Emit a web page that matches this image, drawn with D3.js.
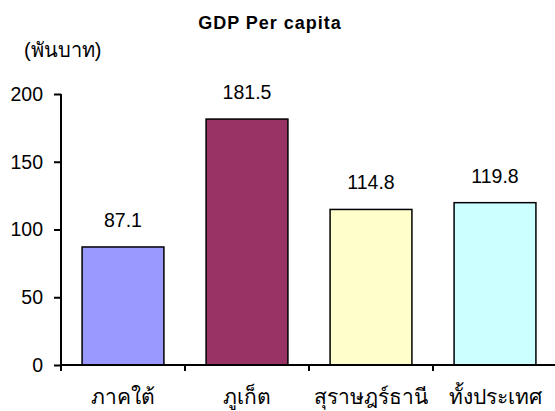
<!DOCTYPE html>
<html>
<head>
<meta charset="utf-8">
<script src="https://cdn.jsdelivr.net/npm/d3@7"></script>
<style>
  html, body { margin: 0; padding: 0; background: #fff; }
  svg { display: block; }
  text { font-family: Arial, "Liberation Sans", sans-serif; fill: #000; }
</style>
</head>
<body>
<svg id="chart" width="555" height="411"></svg>
<script>
const categories = ["ภาคใต้", "ภูเก็ต", "สุราษฎร์ธานี", "ทั้งประเทศ"];
const values = [87.1, 181.5, 114.8, 119.8];
const colors = ["#9999FF", "#993366", "#FFFFCC", "#CCFFFF"];
const yTicks = [0, 50, 100, 150, 200];
const title = "GDP Per capita";
const unitLabel = "(พันบาท)";

const svg = d3.select("#chart");
const plotLeft = 61, plotRight = 557, plotTop = 94, plotBottom = 365;
const fontSize = 19.5;

const x = d3.scaleBand().domain(categories).range([plotLeft, plotRight]).paddingInner(0.34).paddingOuter(0.17);
const y = d3.scaleLinear().domain([0, 200]).range([plotBottom, plotTop]);

// Title and unit
svg.append("text").attr("x", 270).attr("y", 29).attr("text-anchor", "middle")
  .attr("font-weight", "bold").attr("font-size", 18).attr("letter-spacing", 1).text(title);
svg.append("text").attr("x", 24).attr("y", 57).attr("font-size", 20).text(unitLabel);

// Bars
svg.selectAll("rect.bar").data(values).join("rect")
  .attr("class", "bar")
  .attr("x", (d, i) => x(categories[i]))
  .attr("width", x.bandwidth())
  .attr("y", d => y(d))
  .attr("height", d => y(0) - y(d))
  .attr("fill", (d, i) => colors[i])
  .attr("stroke", "#000").attr("stroke-width", 1.5);

// Value labels
svg.selectAll("text.val").data(values).join("text")
  .attr("class", "val")
  .attr("x", (d, i) => x(categories[i]) + x.bandwidth() / 2)
  .attr("y", d => y(d) - 20)
  .attr("text-anchor", "middle").attr("font-size", fontSize)
  .text(d => d.toFixed(1));

// Y axis
const yAxis = svg.append("g").attr("transform", `translate(${plotLeft},0)`)
  .call(d3.axisLeft(y).tickValues(yTicks).tickSize(7).tickPadding(11));
yAxis.selectAll("text").attr("font-size", fontSize).attr("font-family", "Arial, 'Liberation Sans', sans-serif");
yAxis.select(".domain").attr("stroke-width", 2).attr("d", `M0,${plotTop}V${plotBottom}`);
yAxis.selectAll(".tick line").attr("stroke-width", 2);

// X axis with ticks between categories
const xg = svg.append("g").attr("transform", `translate(0,${plotBottom})`);
xg.append("line").attr("x1", plotLeft).attr("x2", plotRight).attr("stroke", "#000").attr("stroke-width", 2);
const step = x.step();
const bounds = d3.range(categories.length + 1).map(i => plotLeft + i * step);
xg.selectAll("line.tk").data(bounds).join("line").attr("class", "tk")
  .attr("x1", d => d).attr("x2", d => d).attr("y1", 0).attr("y2", 6)
  .attr("stroke", "#000").attr("stroke-width", 2);
xg.selectAll("text.cat").data(categories).join("text").attr("class", "cat")
  .attr("x", d => x(d) + x.bandwidth() / 2).attr("y", 39)
  .attr("text-anchor", "middle").attr("font-size", 21)
  .text(d => d);
</script>
</body>
</html>
